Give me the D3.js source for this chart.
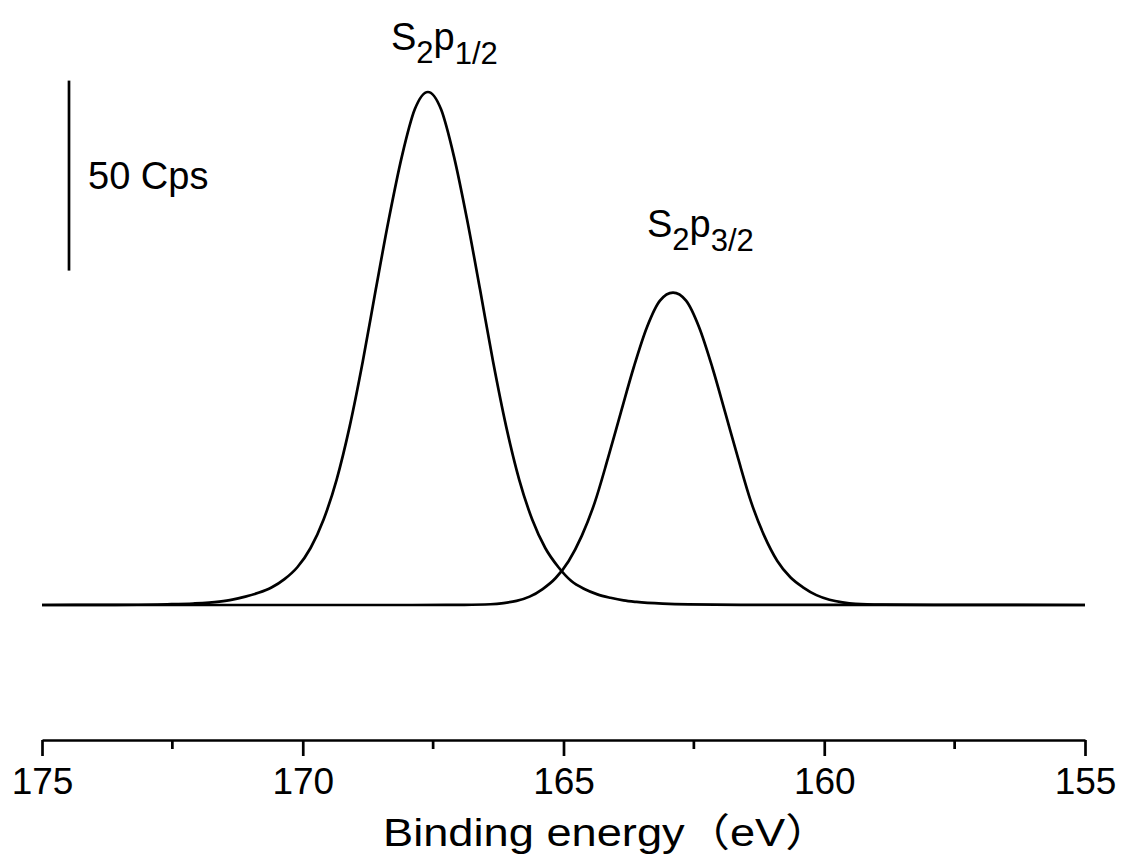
<!DOCTYPE html>
<html><head><meta charset="utf-8">
<script src="https://cdn.jsdelivr.net/npm/d3@7"></script>
<style>
body{margin:0;background:#fff}
svg{display:block}
text{font-family:"Liberation Sans",Arial,"Noto Sans CJK SC",sans-serif;fill:#000}
</style>
</head><body><svg id="chart" width="1123" height="863"></svg>
<script>
// ---- data (binding energy in eV, intensity in Cps) ----
const energyP1 = [175, 173.6, 172.6, 172.1, 171.6, 171.35, 171.1, 170.85, 170.6, 170.35, 170.1, 169.85, 169.6, 169.35, 169.1, 168.85, 168.6, 168.35, 168.1, 167.85, 167.6,
  167.35, 167.1, 166.85, 166.6, 166.35, 166.1, 165.85, 165.6, 165.35, 165.1, 164.85, 164.6, 164.35, 164.1, 163.85, 163.6, 163.1, 162.6, 161.6, 155];
const countsP1 = [0, 0.05, 0.2, 0.4, 0.9, 1.4, 2.2, 3.2, 4.6, 6.8, 10, 15, 22.5, 33, 47, 64, 83, 101.5, 118, 130.5, 135,
  130.5, 118, 101.5, 83, 64, 47, 33, 22.5, 15, 10, 6.3, 4.2, 2.8, 1.9, 1.2, 0.8, 0.35, 0.15, 0.05, 0];

const energyP2 = [175, 167.9, 166.9, 166.4, 166.15, 165.9, 165.65, 165.4, 165.15, 164.9, 164.65, 164.4, 164.15, 163.9, 163.65, 163.4, 163.15, 162.9,
  162.65, 162.4, 162.15, 161.9, 161.65, 161.4, 161.15, 160.9, 160.65, 160.4, 160.15, 159.9, 159.65, 159.4, 158.9, 157.9, 155];
const countsP2 = [0, 0, 0.05, 0.2, 0.5, 1.1, 2.2, 4.2, 7.1, 11.6, 18.2, 27.0, 38.5, 50.7, 62.7, 73.1, 80.1, 82.2,
  80.1, 73.1, 62.7, 50.7, 38.5, 27.0, 18.2, 11.6, 7.3, 4.6, 2.6, 1.4, 0.7, 0.3, 0.08, 0, 0];

const xTicks = [175, 170, 165, 160, 155];
const xMinorTicks = [172.5, 167.5, 162.5, 157.5];
const scaleBarCps = [88, 138];
const scaleBarLabel = "50 Cps";
const axisTitle = "Binding energy（eV）";

// ---- drawing ----
const svg = d3.select("#chart");
const x = d3.scaleLinear().domain([175, 155]).range([42, 1085]);
const y = d3.scaleLinear().domain([0, 50]).range([605, 415]);

const line = d3.line().x(d => x(d[0])).y(d => y(d[1])).curve(d3.curveMonotoneX);

[[energyP1, countsP1], [energyP2, countsP2]].forEach(([e, c]) => {
  svg.append("path")
    .datum(e.map((v, i) => [v, c[i]]))
    .attr("d", line)
    .attr("fill", "none")
    .attr("stroke", "#000")
    .attr("stroke-width", 2.7)
    .attr("stroke-linejoin", "round");
});

// scale bar
svg.append("line")
  .attr("x1", 69).attr("x2", 69)
  .attr("y1", y(scaleBarCps[0])).attr("y2", y(scaleBarCps[1]))
  .attr("stroke", "#000").attr("stroke-width", 2.7);
svg.append("text").attr("x", 88).attr("y", 189).attr("font-size", 38).text(scaleBarLabel);

// peak labels
function peakLabel(px, py, sub1, sub2) {
  const t = svg.append("text").attr("x", px).attr("y", py).attr("font-size", 38);
  t.append("tspan").text("S");
  t.append("tspan").attr("font-size", 31).attr("dy", 13).text(sub1);
  t.append("tspan").attr("dy", -13).text("p");
  t.append("tspan").attr("font-size", 31).attr("dy", 14).text(sub2);
}
peakLabel(391, 50, "2", "1/2");
peakLabel(647, 237, "2", "3/2");

// x axis
const axisY = 740;
const gx = svg.append("g").attr("transform", `translate(0,${axisY})`)
  .call(d3.axisBottom(x).tickValues(xTicks).tickFormat(d3.format("d")).tickSize(16).tickSizeOuter(0).tickPadding(12));
gx.select(".domain").attr("stroke-width", 2.7);
gx.selectAll(".tick line").attr("stroke-width", 2.7);
gx.selectAll(".tick text").attr("font-size", 37).attr("font-family", "'Liberation Sans', Arial, sans-serif");

svg.append("g").selectAll("line").data(xMinorTicks).join("line")
  .attr("x1", d => x(d)).attr("x2", d => x(d))
  .attr("y1", axisY).attr("y2", axisY + 9)
  .attr("stroke", "#000").attr("stroke-width", 2.7);

svg.append("text").attr("transform", "translate(383,846) scale(1.16,1)")
  .attr("font-size", 39).text(axisTitle);
</script>
</body></html>
